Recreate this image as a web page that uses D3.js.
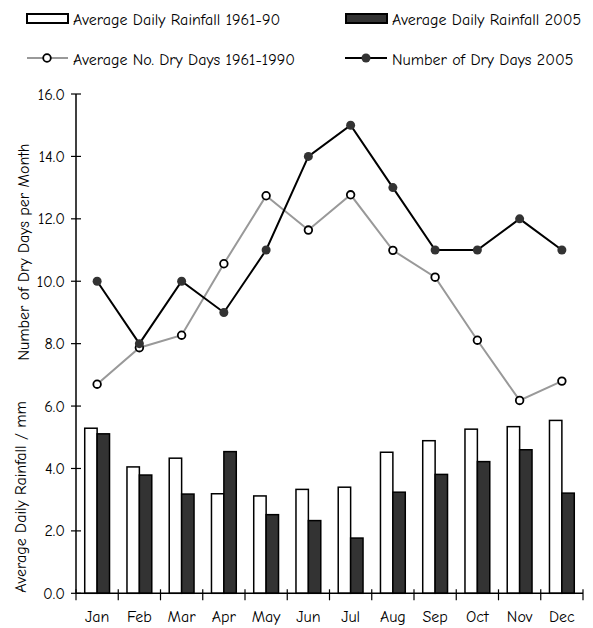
<!DOCTYPE html>
<html><head><meta charset="utf-8">
<script src="https://cdn.jsdelivr.net/npm/d3@7"></script>
<style>
body{margin:0;background:#fff;}
text{font-family:"Comic Sans MS","Comic Neue","DejaVu Sans",sans-serif;fill:#000;}
</style></head>
<body><svg id="c" width="593" height="628"></svg>
<script>
const months = ["Jan","Feb","Mar","Apr","May","Jun","Jul","Aug","Sep","Oct","Nov","Dec"];
const rain6190 = [5.29,4.05,4.33,3.19,3.12,3.33,3.40,4.52,4.89,5.26,5.34,5.54];
const rain2005 = [5.11,3.79,3.18,4.54,2.52,2.33,1.77,3.24,3.81,4.22,4.60,3.21];
const dry6190 = [6.70,7.87,8.27,10.56,12.74,11.64,12.77,10.99,10.13,8.11,6.18,6.80];
const dry2005 = [10,8,10,9,11,14,15,13,11,11,12,11];
const yTicks = [0,2,4,6,8,10,12,14,16];
const legendLabels = ["Average Daily Rainfall 1961-90","Average Daily Rainfall 2005","Average No. Dry Days 1961-1990","Number of Dry Days 2005"];

const svg = d3.select("#c");
const x0 = 76, x1 = 583, yTop = 94, yBot = 593.3;
const x = d3.scaleBand().domain(months).range([x0,x1]).paddingInner(0).paddingOuter(0);
const y = d3.scaleLinear().domain([0,16]).range([yBot,yTop]);
const barW = 12.4;
const fs = 16;

// bars
const g = svg.append("g");
months.forEach((m,i)=>{
  const cx = x(m)+x.bandwidth()/2;
  g.append("rect").attr("x",cx-barW).attr("y",y(rain6190[i])).attr("width",barW).attr("height",yBot-y(rain6190[i]))
    .attr("fill","#fff").attr("stroke","#000").attr("stroke-width",1.5);
  g.append("rect").attr("x",cx).attr("y",y(rain2005[i])).attr("width",barW).attr("height",yBot-y(rain2005[i]))
    .attr("fill","#333").attr("stroke","#000").attr("stroke-width",1.5);
});

// axes
svg.append("line").attr("x1",x0).attr("x2",x0).attr("y1",yTop).attr("y2",yBot).attr("stroke","#000").attr("stroke-width",1.5);
svg.append("line").attr("x1",x0).attr("x2",x1).attr("y1",yBot).attr("y2",yBot).attr("stroke","#000").attr("stroke-width",1.5);
yTicks.forEach(t=>{
  svg.append("line").attr("x1",x0-5).attr("x2",x0+5).attr("y1",y(t)).attr("y2",y(t)).attr("stroke","#000").attr("stroke-width",1.2);
  svg.append("text").attr("x",x0-11).attr("y",y(t)).attr("dy","0.35em").attr("text-anchor","end").attr("font-size",fs).text(d3.format(".1f")(t));
});
const bounds = months.map(m=>x(m)).concat([x1]);
bounds.forEach(b=>{
  svg.append("line").attr("x1",b).attr("x2",b).attr("y1",yBot-4).attr("y2",yBot+7).attr("stroke","#000").attr("stroke-width",1.2);
});
months.forEach(m=>{
  svg.append("text").attr("x",x(m)+x.bandwidth()/2).attr("y",616).attr("dy","0.35em").attr("text-anchor","middle").attr("font-size",fs).text(m);
});

// axis titles
svg.append("text").attr("transform","translate(23,252) rotate(-90)").attr("text-anchor","middle").attr("dy","0.35em").attr("font-size",16).text("Number of Dry Days per Month");
svg.append("text").attr("transform","translate(20,497) rotate(-90)").attr("text-anchor","middle").attr("dy","0.35em").attr("font-size",16).text("Average Daily Rainfall / mm");

// lines
const line = d3.line().x((d,i)=>x(months[i])+x.bandwidth()/2).y(d=>y(d));
svg.append("path").datum(dry6190).attr("d",line).attr("fill","none").attr("stroke","#999").attr("stroke-width",2);
svg.append("path").datum(dry2005).attr("d",line).attr("fill","none").attr("stroke","#000").attr("stroke-width",2);
dry6190.forEach((v,i)=>{
  svg.append("circle").attr("cx",x(months[i])+x.bandwidth()/2).attr("cy",y(v)).attr("r",3.8).attr("fill","#fff").attr("stroke","#000").attr("stroke-width",1.8);
});
dry2005.forEach((v,i)=>{
  svg.append("circle").attr("cx",x(months[i])+x.bandwidth()/2).attr("cy",y(v)).attr("r",4.5).attr("fill","#333");
});

// legend
const L = svg.append("g");
L.append("rect").attr("x",27).attr("y",14).attr("width",41).attr("height",9).attr("fill","#fff").attr("stroke","#000").attr("stroke-width",2);
L.append("text").attr("x",73).attr("y",19).attr("dy","0.35em").attr("font-size",fs).text(legendLabels[0]);
L.append("rect").attr("x",346).attr("y",14).attr("width",41).attr("height",9).attr("fill","#333").attr("stroke","#000").attr("stroke-width",2);
L.append("text").attr("x",392).attr("y",19).attr("dy","0.35em").attr("font-size",fs).text(legendLabels[1]);
L.append("line").attr("x1",27).attr("x2",68).attr("y1",58).attr("y2",58).attr("stroke","#999").attr("stroke-width",2);
L.append("circle").attr("cx",47).attr("cy",58).attr("r",3.8).attr("fill","#fff").attr("stroke","#000").attr("stroke-width",1.8);
L.append("text").attr("x",73).attr("y",59).attr("dy","0.35em").attr("font-size",fs).text(legendLabels[2]);
L.append("line").attr("x1",345).attr("x2",387).attr("y1",58).attr("y2",58).attr("stroke","#000").attr("stroke-width",2);
L.append("circle").attr("cx",366).attr("cy",58).attr("r",4.5).attr("fill","#333");
L.append("text").attr("x",392).attr("y",59).attr("dy","0.35em").attr("font-size",fs).text(legendLabels[3]);
</script></body></html>
